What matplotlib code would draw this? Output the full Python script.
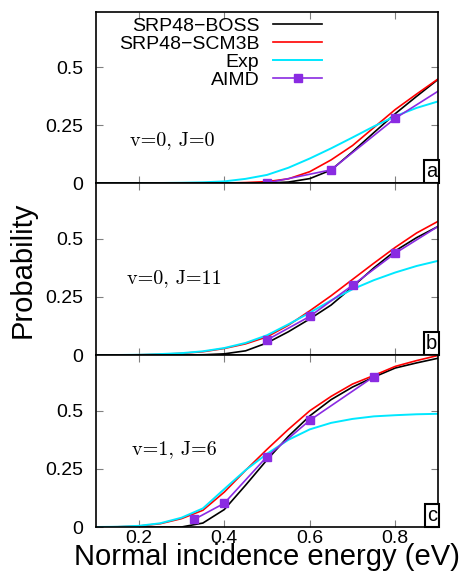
import matplotlib
matplotlib.use("Agg")
import matplotlib.pyplot as plt

plt.rcParams['font.family'] = ['Liberation Sans', 'DejaVu Sans']
plt.rcParams['axes.unicode_minus'] = False

# ---------------- data ----------------
x_grid = [0.1, 0.15, 0.2, 0.25, 0.3, 0.35, 0.4, 0.45, 0.5, 0.55, 0.6, 0.65, 0.7, 0.75, 0.8, 0.85, 0.9]

# panel a: v=0, J=0
boss_a = [0, 0, 0, 0, 0, 0, 0, 0, 0, 0.004, 0.019, 0.056, 0.135, 0.218, 0.300, 0.375, 0.448]
scm_a = [0, 0, 0, 0, 0, 0, 0, 0.002, 0.006, 0.018, 0.049, 0.100, 0.162, 0.240, 0.318, 0.385, 0.450]
exp_a = [0, 0, 0, 0, 0.001, 0.003, 0.007, 0.018, 0.035, 0.066, 0.106, 0.150, 0.197, 0.245, 0.289, 0.325, 0.353]
aimd_x_a = [0.5, 0.65, 0.8, 1.0]
aimd_a = [0.0, 0.057, 0.280, 0.514]
aimd_err_a = [0.003, 0.008, 0.014, 0.0]

# panel b: v=0, J=11
boss_b = [0, 0, 0, 0, 0, 0.001, 0.005, 0.018, 0.052, 0.100, 0.155, 0.215, 0.293, 0.375, 0.448, 0.505, 0.553]
scm_b = [0, 0, 0.001, 0.003, 0.007, 0.014, 0.028, 0.048, 0.078, 0.128, 0.190, 0.255, 0.325, 0.395, 0.463, 0.525, 0.575]
exp_b = [0, 0, 0.001, 0.004, 0.008, 0.016, 0.030, 0.052, 0.085, 0.132, 0.182, 0.235, 0.283, 0.322, 0.355, 0.383, 0.405]
aimd_x_b = [0.5, 0.6, 0.7, 0.8, 1.0]
aimd_b = [0.065, 0.166, 0.300, 0.438, 0.668]
aimd_err_b = [0.008, 0.012, 0.014, 0.015, 0.0]

# panel c: v=1, J=6
boss_c = [0, 0, 0, 0, 0, 0.017, 0.075, 0.180, 0.289, 0.390, 0.478, 0.548, 0.602, 0.645, 0.684, 0.706, 0.726]
scm_c = [0, 0.001, 0.004, 0.014, 0.036, 0.072, 0.150, 0.244, 0.334, 0.420, 0.500, 0.562, 0.615, 0.652, 0.691, 0.716, 0.738]
exp_c = [0, 0.001, 0.005, 0.016, 0.040, 0.080, 0.163, 0.245, 0.315, 0.375, 0.420, 0.448, 0.465, 0.476, 0.481, 0.485, 0.487]
aimd_x_c = [0.33, 0.4, 0.5, 0.6, 0.75]
aimd_c = [0.033, 0.102, 0.303, 0.459, 0.647]
aimd_err_c = [0.006, 0.01, 0.012, 0.014, 0.015]

labels = ['SRP48\u2212BOSS', 'SRP48\u2212SCM3B', 'Exp', 'AIMD']
state_labels = ['v=0, J=0', 'v=0, J=11', 'v=1, J=6']
panel_tags = ['a', 'b', 'c']
state_pos = [(0.179, 0.185), (0.172, 0.33), (0.184, 0.336)]
xticks = [0.2, 0.4, 0.6, 0.8]
yticks = [0, 0.25, 0.5]
ytick_labels = ['0', '0.25', '0.5']

panels = [
    (boss_a, scm_a, exp_a, aimd_x_a, aimd_a, aimd_err_a),
    (boss_b, scm_b, exp_b, aimd_x_b, aimd_b, aimd_err_b),
    (boss_c, scm_c, exp_c, aimd_x_c, aimd_c, aimd_err_c),
]

# ---------------- figure ----------------
W, H = 461, 571
fig = plt.figure(figsize=(W / 100, H / 100), dpi=100)

left, right = 96 / W, 438 / W
tops = [12, 183, 355]
bottoms = [183, 355, 527]

purple = '#8a2be2'
for i, (boss, scm, exp, ax_x, aimd, aerr) in enumerate(panels):
    ax = fig.add_axes([left, 1 - bottoms[i] / H, right - left, (bottoms[i] - tops[i]) / H])
    ax.plot(x_grid, boss, color='black', lw=1.2, label=labels[0])
    ax.plot(x_grid, scm, color='#ff0000', lw=1.2, label=labels[1])
    ax.plot(x_grid, exp, color='#00e8ff', lw=1.4, label=labels[2])
    ax.errorbar(ax_x, aimd, yerr=aerr, fmt='none', ecolor=purple, elinewidth=1.0, capsize=0)
    ax.plot(ax_x, aimd, color=purple, lw=1.2, marker='s', ms=5.5, mfc=purple, mec=purple,
            label=labels[3])
    ax.set_xlim(0.1, 0.9)
    ax.set_ylim(0, 0.74)
    ax.set_xticks(xticks)
    ax.set_yticks(yticks)
    ax.set_yticklabels(ytick_labels)
    ax.tick_params(direction='in', top=True, right=True, length=5, width=0.8,
                   color='#808080', labelsize=14, labelcolor='black')
    ax.tick_params(axis='y', pad=9)
    ax.tick_params(axis='x', pad=2)
    if i < 2:
        ax.set_xticklabels([])
    else:
        ax.set_xticklabels([f'{t:g}' for t in xticks])
    for sp in ax.spines.values():
        sp.set_linewidth(1.2)
        sp.set_color('black')
    ax.text(state_pos[i][0], state_pos[i][1], state_labels[i], fontsize=14.5,
            family='cmr10', ha='left', va='center')
    ax.text(0.997, 0.012, panel_tags[i], transform=ax.transAxes, fontsize=14.5,
            ha='right', va='bottom',
            bbox=dict(boxstyle='square,pad=0.1', fc='white', ec='black', lw=1.5))
    if i == 0:
        ax.legend(loc='upper right', bbox_to_anchor=(0.661, 0.97), frameon=False,
                  markerfirst=False, fontsize=14, handlelength=2.5, handletextpad=0.72,
                  labelspacing=0.02, borderpad=0, borderaxespad=0, numpoints=1)

fig.text(23 / W, 1 - 269.5 / H, 'Probability', rotation=90, fontsize=21,
         ha='center', va='center')
fig.text(267 / W, 1 - 565 / H, 'Normal incidence energy (eV)', fontsize=21,
         ha='center', va='baseline')

fig.savefig('out.png', dpi=100)
